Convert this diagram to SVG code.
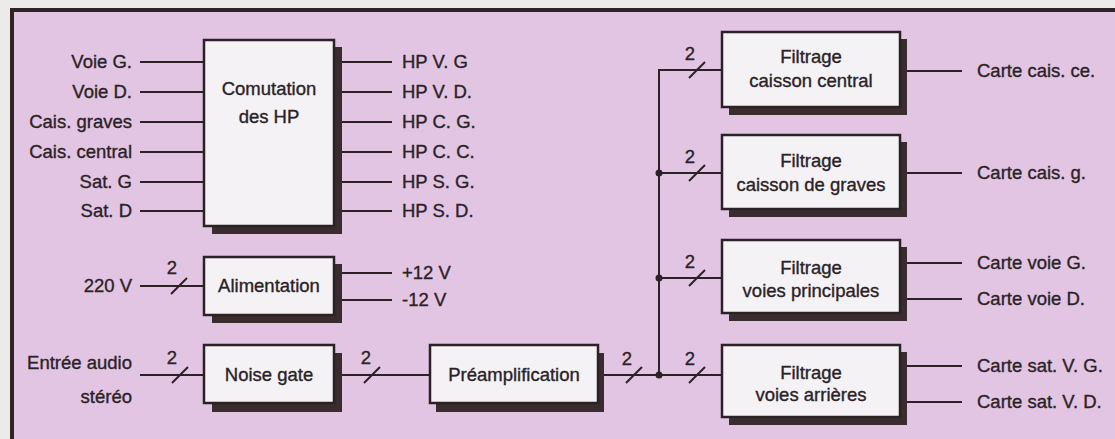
<svg xmlns="http://www.w3.org/2000/svg" width="1115" height="439" viewBox="0 0 1115 439">
<style>
text{font-family:"Liberation Sans",Arial,sans-serif;font-size:18.5px;fill:#2b2226;stroke:#2b2226;stroke-width:0.35px}
.r{text-anchor:end}
.m{text-anchor:middle}
.box{fill:#f4f2f4;stroke:#2b2226;stroke-width:2.5}
.sh{fill:#3a2c2e}
.w{stroke:#2b2226;stroke-width:2;fill:none}
.sl{stroke:#2b2226;stroke-width:2}
.dot{fill:#2b2226}
</style>
<rect x="0" y="0" width="1115" height="439" fill="#ecebea"/>
<rect x="12" y="10" width="1110" height="440" fill="#e2c5e3" stroke="#2e2426" stroke-width="4"/>

<g id="connectors">
<path class="w" d="M140 62H204M140 92H204M140 122H204M140 152H204M140 182H204M140 211H204"/>
<path class="w" d="M334 62H392M334 92H392M334 122H392M334 152H392M334 182H392M334 211H392"/>
<path class="w" d="M140 286H204M334 273H392M334 300H392"/>
<path class="w" d="M140 375H204M334 375H430M598 375H659"/>
<path class="w" d="M722 70H659V375M659 173H722M659 278H722M659 375H722"/>
<path class="w" d="M900 71H962M900 173H962M900 263H962M900 299H962M900 366H962M900 402H962"/>
<path class="sl" d="M171 294L187 278M172 383L188 367M364 383L380 367M626 383L642 367M689 78L705 62M689 181L705 165M689 286L705 270M689 383L705 367"/>
<circle class="dot" cx="659" cy="173" r="3.5"/>
<circle class="dot" cx="659" cy="278" r="3.5"/>
<circle class="dot" cx="659" cy="375" r="3.5"/>
<text class="m" x="172" y="274">2</text>
<text class="m" x="172" y="364">2</text>
<text class="m" x="366" y="364">2</text>
<text class="m" x="627" y="365">2</text>
<text class="m" x="690" y="60">2</text>
<text class="m" x="690" y="163">2</text>
<text class="m" x="690" y="268">2</text>
<text class="m" x="690" y="365">2</text>
</g>

<g id="inputs">
<text class="r" x="132" y="68">Voie G.</text>
<text class="r" x="132" y="98">Voie D.</text>
<text class="r" x="132" y="128">Cais. graves</text>
<text class="r" x="132" y="158">Cais. central</text>
<text class="r" x="132" y="188">Sat. G</text>
<text class="r" x="132" y="217">Sat. D</text>
<text class="r" x="132" y="292">220 V</text>
<text class="r" x="132" y="369">Entrée audio</text>
<text class="r" x="132" y="403">stéréo</text>
</g>

<g id="outputs">
<text x="402" y="68">HP V. G</text>
<text x="402" y="98">HP V. D.</text>
<text x="402" y="128">HP C. G.</text>
<text x="402" y="158">HP C. C.</text>
<text x="402" y="188">HP S. G.</text>
<text x="402" y="217">HP S. D.</text>
<text x="402" y="279">+12 V</text>
<text x="402" y="306">-12 V</text>
<text x="977" y="77">Carte cais. ce.</text>
<text x="977" y="179">Carte cais. g.</text>
<text x="977" y="269">Carte voie G.</text>
<text x="977" y="305">Carte voie D.</text>
<text x="977" y="372">Carte sat. V. G.</text>
<text x="977" y="408">Carte sat. V. D.</text>
</g>

<g id="comutation">
<rect class="sh" x="212" y="47" width="130" height="187"/>
<rect class="box" x="204" y="40" width="130" height="186"/>
<text class="m" x="269" y="95">Comutation</text>
<text class="m" x="269" y="123">des HP</text>
</g>

<g id="alimentation">
<rect class="sh" x="212" y="264" width="130" height="59"/>
<rect class="box" x="204" y="257" width="130" height="58"/>
<text class="m" x="269" y="292">Alimentation</text>
</g>

<g id="noise-gate">
<rect class="sh" x="212" y="353" width="130" height="59"/>
<rect class="box" x="204" y="345" width="130" height="58"/>
<text class="m" x="269" y="381">Noise gate</text>
</g>

<g id="preamplification">
<rect class="sh" x="436" y="353" width="168" height="59"/>
<rect class="box" x="430" y="345" width="168" height="58"/>
<text class="m" x="514" y="381">Préamplification</text>
</g>

<g id="filtrage-central">
<rect class="sh" x="729" y="39" width="178" height="76"/>
<rect class="box" x="722" y="32" width="178" height="75"/>
<text class="m" x="811" y="63">Filtrage</text>
<text class="m" x="811" y="87">caisson central</text>
</g>

<g id="filtrage-graves">
<rect class="sh" x="729" y="142" width="178" height="75"/>
<rect class="box" x="722" y="135" width="178" height="74"/>
<text class="m" x="811" y="167">Filtrage</text>
<text class="m" x="811" y="191">caisson de graves</text>
</g>

<g id="filtrage-principales">
<rect class="sh" x="729" y="247" width="178" height="74"/>
<rect class="box" x="722" y="240" width="178" height="73"/>
<text class="m" x="811" y="274">Filtrage</text>
<text class="m" x="811" y="297">voies principales</text>
</g>

<g id="filtrage-arrieres">
<rect class="sh" x="729" y="352" width="178" height="73"/>
<rect class="box" x="722" y="345" width="178" height="72"/>
<text class="m" x="811" y="379">Filtrage</text>
<text class="m" x="811" y="401">voies arrières</text>
</g>
</svg>
